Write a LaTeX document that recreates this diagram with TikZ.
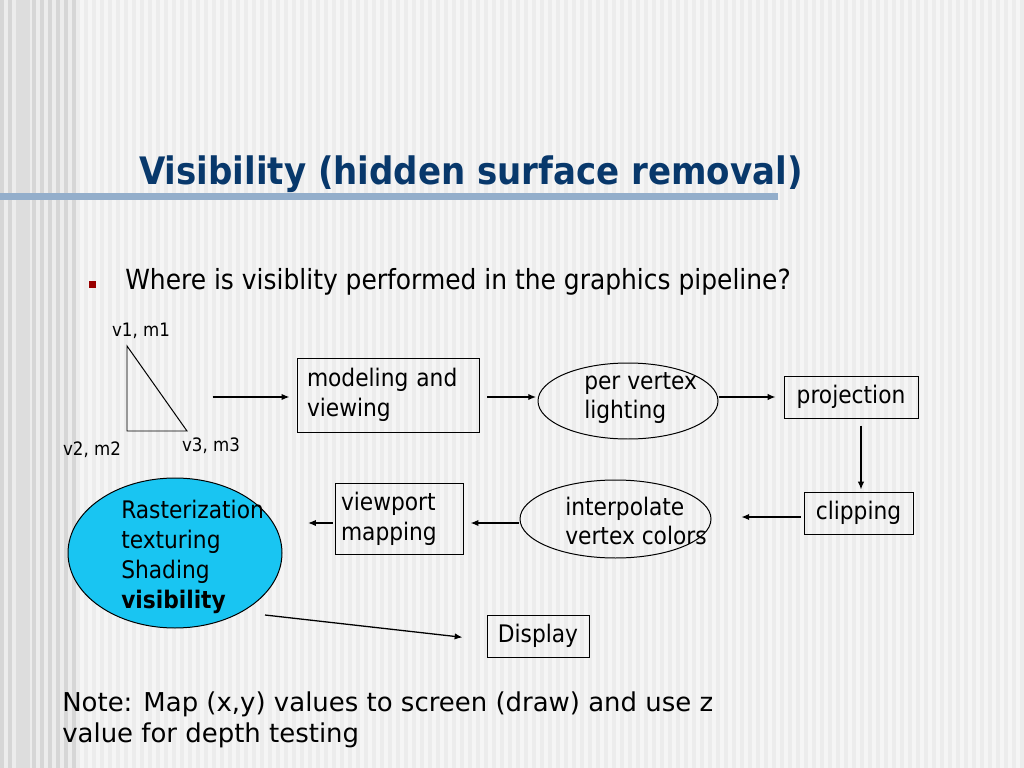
\documentclass[tikz,border=0pt]{standalone}
\usepackage{fontspec}
\setmainfont{DejaVu Sans Condensed}
\newfontfamily\verd{DejaVu Sans}
\usetikzlibrary{arrows.meta,shapes.geometric}
\definecolor{bgbase}{HTML}{ECECEC}
\definecolor{bgstripe}{HTML}{F5F5F5}
\definecolor{bgdark}{HTML}{D6D6D6}
\definecolor{titleblue}{HTML}{08386B}
\definecolor{barblue}{HTML}{93AECB}
\definecolor{bulletred}{HTML}{990000}
\definecolor{cyanfill}{HTML}{19C5F2}
\tikzset{
  arr/.style={draw, line width=0.9pt, -{Latex[length=5.5pt,width=4.5pt]}},
  boxn/.style={draw, line width=0.7pt, inner sep=0pt, align=left, font=\fontsize{17}{21}\selectfont},
  elln/.style={draw, ellipse, line width=0.7pt, inner sep=0pt},
  lbl/.style={inner sep=0pt, font=\fontsize{13}{15}\selectfont},
  eltext/.style={inner sep=0pt, align=left, anchor=west, font=\fontsize{17}{21}\selectfont},
}
\begin{document}
\begin{tikzpicture}[x=0.703125pt,y=-0.703125pt]
\useasboundingbox (0,0) rectangle (1024,768);
% background
\fill[bgbase] (0,0) rectangle (1024,768);
\foreach \x in {0,8,...,1016} \fill[bgstripe] (\x,0) rectangle (\x+4,768);
\foreach \x in {0,8,...,72} \fill[bgdark] (\x,0) rectangle (\x+4,768);
\fill[bgdark!70!bgbase] (16,0) rectangle (30,768);
% title
\node[anchor=west, inner sep=0pt, text=titleblue, font=\fontsize{26.6}{30}\bfseries] (title) at (139,174) {Visibility (hidden surface removal)};
\fill[barblue] (0,193) rectangle (778,200);
% bullet
\fill[bulletred] (89,281) rectangle (96,288);
\node[anchor=west, inner sep=0pt, font=\fontsize{19.5}{24}\selectfont] (q) at (125,282) {Where is visiblity performed in the graphics pipeline?};
% triangle
\draw[line width=0.7pt] (127,346) coordinate (t1) -- (127,431) coordinate (t2) -- (187,431) coordinate (t3) -- cycle;
\coordinate (triR) at (187,397);
\node[lbl] (l1) at (141,331) {v1, m1};
\node[lbl] (l2) at (92,450) {v2, m2};
\node[lbl] (l3) at (211,446) {v3, m3};
% nodes
\node[boxn, minimum width=182*0.703125pt, minimum height=74*0.703125pt, text width=162*0.703125pt] (mv) at (388,395) {modeling and\\viewing};
\node[elln, minimum width=180*0.703125pt, minimum height=76*0.703125pt] (plt) at (628,401) {};
\node[eltext] (pltt) at (584,398) {per vertex\\lighting};
\node[boxn, minimum width=134*0.703125pt, minimum height=42*0.703125pt] (proj) at (851,397) {projection};
\node[boxn, minimum width=109*0.703125pt, minimum height=42*0.703125pt] (clip) at (858.5,513) {clipping};
\node[elln, minimum width=191*0.703125pt, minimum height=78*0.703125pt] (ivc) at (615.5,519) {};
\node[eltext] (ivct) at (565,521) {interpolate\\vertex colors};
\node[boxn, minimum width=128*0.703125pt, minimum height=71*0.703125pt, text width=116*0.703125pt] (vm) at (399,519) {viewport\\mapping};
\node[elln, fill=cyanfill, minimum width=214*0.703125pt, minimum height=150*0.703125pt] (rast) at (175,553) {};
\node[eltext] (rastt) at (121,557) {Rasterization\\texturing\\Shading\\\textbf{visibility}};
\node[boxn, minimum width=102*0.703125pt, minimum height=42*0.703125pt] (disp) at (538,636) {Display};
% connectors
\draw[arr, shorten <=18pt, shorten >=5pt] (triR) -- (triR -| mv.west);
\draw[arr, shorten <=5.6pt, shorten >=1pt] (mv.east |- triR) -- (plt.west |- triR);
\draw[arr, shorten <=0pt, shorten >=5.6pt] (plt.east |- triR) -- (proj.west |- triR);
\draw[arr, shorten <=5pt, shorten >=1.4pt] (proj.south -| 861,0) -- (clip.north -| 861,0);
\draw[arr, shorten <=2pt, shorten >=21pt] (clip.west |- 0,517) -- (ivc.east |- 0,517);
\draw[arr, shorten <=0.7pt, shorten >=5pt] (ivc.west |- 0,523) -- (vm.east |- 0,523);
\draw[arr, shorten <=1.4pt, shorten >=18pt] (vm.west |- 0,523) -- (rast.east |- 0,523);
\coordinate (rs) at (265,615);
\draw[arr, shorten >=17pt] (rs) -- (disp.west |- 0,640);
% note
\node[anchor=west, inner sep=0pt, align=left, font=\verd\fontsize{18.25}{22}\selectfont] (note) at (62,720) {Note: Map (x,y) values to screen (draw) and use z\\value for depth testing};
\end{tikzpicture}
\end{document}
